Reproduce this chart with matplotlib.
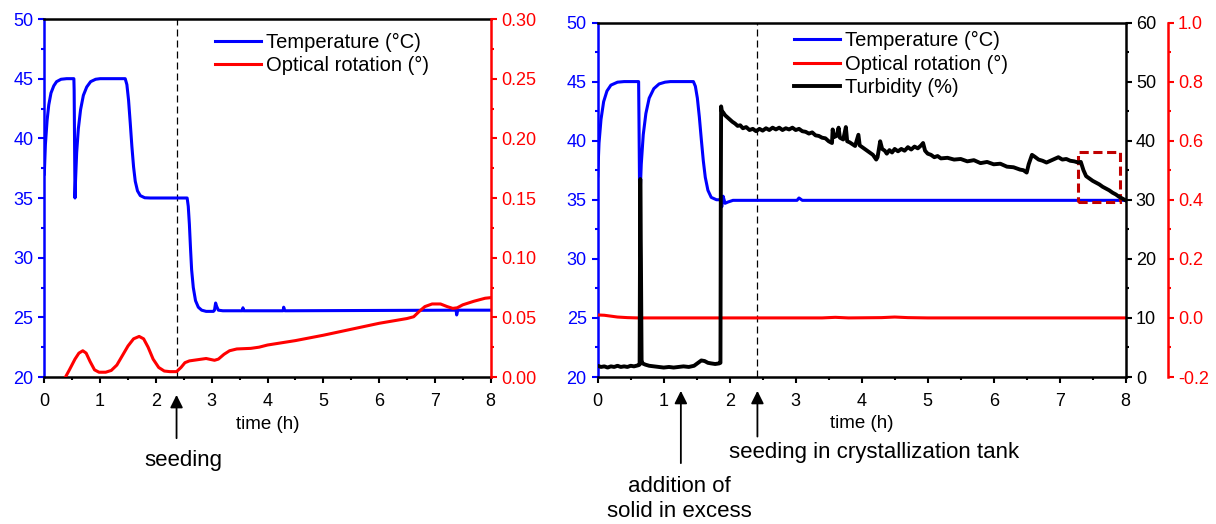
import numpy as np
import matplotlib
matplotlib.use('Agg')
import matplotlib.pyplot as plt
from matplotlib.ticker import MultipleLocator, FormatStrFormatter
from matplotlib.patches import Rectangle

plt.rcParams['font.family'] = ['Liberation Sans', 'DejaVu Sans']
plt.rcParams['axes.unicode_minus'] = False

# ---- left experiment: temperature (degC) and optical rotation (deg) vs time (h)
t_temp_a = [0.00, 0.02, 0.05, 0.08, 0.12, 0.17, 0.22, 0.30, 0.40, 0.53, 0.535, 0.545,
            0.55, 0.56, 0.58, 0.61, 0.65, 0.70, 0.76, 0.83, 0.92, 1.00, 1.45, 1.48,
            1.51, 1.54, 1.57, 1.60, 1.63, 1.67, 1.72, 1.80, 1.90, 2.56, 2.58, 2.60,
            2.62, 2.64, 2.67, 2.71, 2.76, 2.82, 2.90, 3.03, 3.05, 3.07, 3.09, 3.12,
            3.20, 3.55, 3.56, 3.57, 4.28, 4.29, 4.31, 7.38, 7.39, 7.41, 8.00]
temp_a = [37.0, 39.5, 41.5, 42.8, 43.8, 44.4, 44.75, 44.95, 45.0, 45.0, 44.0, 38.0,
          35.0, 36.5, 38.8, 40.8, 42.4, 43.6, 44.3, 44.75, 44.95, 45.0, 45.0, 44.5,
          43.2, 41.3, 39.3, 37.6, 36.4, 35.6, 35.2, 35.02, 35.0, 35.0, 34.3, 32.8,
          30.8, 29.0, 27.5, 26.4, 25.85, 25.6, 25.5, 25.5, 25.6, 26.2, 25.9, 25.6,
          25.55, 25.55, 25.8, 25.55, 25.55, 25.85, 25.55, 25.6, 25.2, 25.6, 25.6]

t_rot_a = [0.38, 0.45, 0.55, 0.62, 0.69, 0.75, 0.82, 0.90, 0.98, 1.10, 1.20, 1.30,
           1.40, 1.50, 1.60, 1.70, 1.78, 1.86, 1.95, 2.05, 2.15, 2.25, 2.37, 2.45,
           2.52, 2.60, 2.75, 2.90, 3.05, 3.12, 3.22, 3.32, 3.45, 3.70, 3.85, 4.00,
           4.50, 5.00, 5.50, 6.00, 6.50, 6.62, 6.72, 6.82, 6.95, 7.10, 7.22, 7.32,
           7.40, 7.50, 7.70, 7.90, 8.00]
rot_a = [0.0, 0.006, 0.015, 0.020, 0.022, 0.020, 0.013, 0.006, 0.004, 0.004, 0.0055, 0.010,
         0.018, 0.026, 0.032, 0.034, 0.032, 0.025, 0.015, 0.008, 0.005, 0.0045, 0.0045, 0.008,
         0.012, 0.0135, 0.0145, 0.0155, 0.014, 0.015, 0.019, 0.022, 0.0235, 0.024, 0.025, 0.0268,
         0.0305, 0.035, 0.040, 0.045, 0.049, 0.0505, 0.055, 0.059, 0.0612, 0.0612, 0.059, 0.0575,
         0.058, 0.0605, 0.0635, 0.066, 0.0665]

t_seed_a = 2.37

# ---- right experiment: temperature, optical rotation and turbidity (%)
t_temp_b = [0.00, 0.02, 0.05, 0.09, 0.14, 0.20, 0.30, 0.40, 0.62, 0.625, 0.635, 0.645,
            0.66, 0.69, 0.73, 0.78, 0.85, 0.93, 1.02, 1.10, 1.45, 1.48, 1.51, 1.54,
            1.57, 1.60, 1.63, 1.67, 1.72, 1.80, 1.86, 1.88, 1.90, 1.93, 1.97, 2.05,
            3.02, 3.05, 3.10, 8.00]
temp_b = [37.0, 39.8, 41.8, 43.3, 44.2, 44.7, 44.95, 45.0, 45.0, 42.0, 35.5, 35.8,
          38.0, 40.5, 42.3, 43.6, 44.4, 44.8, 44.95, 45.0, 45.0, 44.6, 43.6, 42.0,
          40.1, 38.3, 36.9, 35.8, 35.2, 35.0, 35.0, 34.4, 35.3, 34.7, 34.8, 34.95,
          34.95, 35.15, 34.95, 34.95]

t_rot_b = [0.00, 0.10, 0.20, 0.30, 0.45, 0.60, 3.40, 3.60, 3.80, 4.30, 4.50, 4.70, 5.00, 8.00]
rot_b = [0.010, 0.009, 0.006, 0.003, 0.001, 0.0, 0.0, 0.002, 0.0, 0.001, 0.003, 0.001, 0.0, 0.0]

t_turb = [0.00, 0.05, 0.10, 0.15, 0.20, 0.25, 0.30, 0.35, 0.40, 0.45, 0.50, 0.55, 0.62,
          0.635, 0.64, 0.645, 0.655, 0.665, 0.68, 0.72, 0.78, 0.85, 0.92, 1.00, 1.08,
          1.15, 1.22, 1.30, 1.38, 1.46, 1.52, 1.57, 1.62, 1.67, 1.72, 1.78, 1.84, 1.86,
          1.865, 1.87, 1.88, 1.90, 1.93, 1.96, 2.00, 2.04, 2.08, 2.12, 2.16, 2.20, 2.25,
          2.30, 2.35, 2.40, 2.45, 2.50, 2.55, 2.60, 2.65, 2.70, 2.75, 2.80, 2.85, 2.90,
          2.95, 3.00, 3.05, 3.10, 3.15, 3.20, 3.25, 3.30, 3.35, 3.40, 3.45, 3.50, 3.55,
          3.56, 3.58, 3.62, 3.65, 3.67, 3.72, 3.76, 3.78, 3.82, 3.86, 3.90, 3.95, 3.97,
          4.02, 4.07, 4.12, 4.17, 4.22, 4.24, 4.28, 4.31, 4.35, 4.38, 4.42, 4.46, 4.50,
          4.55, 4.60, 4.65, 4.70, 4.75, 4.80, 4.85, 4.90, 4.93, 4.96, 5.00, 5.05, 5.10,
          5.15, 5.20, 5.30, 5.40, 5.50, 5.60, 5.70, 5.80, 5.90, 6.00, 6.10, 6.20, 6.30,
          6.40, 6.45, 6.50, 6.53, 6.58, 6.62, 6.68, 6.74, 6.80, 6.86, 6.92, 6.98, 7.04,
          7.10, 7.16, 7.22, 7.28, 7.32, 7.36, 7.40, 7.45, 7.50, 7.55, 7.60, 7.65, 7.70,
          7.75, 7.80, 7.85, 7.90, 7.95, 8.00]
turb = [1.9, 1.7, 1.8, 1.6, 1.8, 1.7, 1.9, 1.7, 1.8, 1.7, 1.9, 1.8, 2.0,
        2.1, 20.0, 33.5, 20.0, 2.8, 2.3, 2.1, 1.9, 1.8, 1.7, 1.6, 1.7,
        1.6, 1.7, 1.8, 1.7, 1.9, 2.4, 2.8, 2.7, 2.4, 2.3, 2.2, 2.3, 2.4,
        30.0, 45.8, 45.0, 44.8, 44.3, 44.0, 43.6, 43.2, 42.9, 42.5, 42.6, 42.1, 42.3,
        41.8, 42.0, 41.6, 42.0, 41.7, 42.1, 41.8, 42.2, 41.9, 42.2, 41.8, 42.1, 41.9,
        42.2, 41.8, 42.0, 41.6, 41.5, 41.2, 41.4, 40.9, 40.8, 40.5, 40.4, 39.9, 39.6,
        41.9, 40.6, 40.8, 42.2, 40.5, 40.2, 42.3, 39.9, 39.7, 39.4, 39.1, 41.0, 39.2,
        38.8, 38.4, 38.0, 37.6, 36.8, 37.2, 39.9, 38.6, 38.3, 37.8, 38.4, 38.0, 38.6,
        38.2, 38.6, 38.3, 38.9, 38.5, 39.0, 38.7, 39.2, 39.6, 38.3, 37.8, 37.6, 37.2,
        37.4, 37.0, 37.1, 36.8, 36.9, 36.5, 36.7, 36.2, 36.4, 36.0, 36.1, 35.6, 35.5,
        35.1, 35.0, 34.6, 36.0, 37.6, 37.3, 36.8, 36.6, 36.3, 36.6, 36.9, 37.2, 36.8,
        36.9, 36.6, 36.5, 36.3, 36.4, 35.0, 34.0, 33.6, 33.2, 32.9, 32.6, 32.2, 31.9,
        31.6, 31.2, 30.9, 30.5, 30.2, 29.9]

t_seed_b = 2.42
t_solid = 1.26

BLUE = '#0000ff'
RED = '#ff0000'
TICK_FS = 13
LEG_FS = 14.5
NOTE_FS = 16


def style_axis(ax, axis, color, major, minor):
    # Origin style ticks: outward, one minor tick between majors
    a = ax.xaxis if axis == 'x' else ax.yaxis
    a.set_major_locator(MultipleLocator(major))
    a.set_minor_locator(MultipleLocator(minor))
    ax.tick_params(axis=axis, which='major', direction='out', length=4.3, width=1.5,
                   color=color, labelcolor=color, labelsize=TICK_FS)
    ax.tick_params(axis=axis, which='minor', direction='out', length=2.5, width=1.5,
                   color=color)


def host_axes(fig, rect):
    ax = fig.add_axes(rect)
    ax.set_xlim(0, 8)
    ax.set_ylim(20, 50)
    for s in ax.spines.values():
        s.set_linewidth(1.8)
    ax.spines['left'].set_color(BLUE)
    ax.spines['right'].set_visible(False)
    style_axis(ax, 'x', 'black', 1, 0.5)
    style_axis(ax, 'y', BLUE, 5, 2.5)
    ax.tick_params(axis='x', which='major', pad=7.5)
    ax.tick_params(axis='y', which='both', pad=3.6)
    ax.set_xlabel('time (h)', fontsize=13.5)
    ax.xaxis.label.set_va('center')
    ax.xaxis.set_label_coords(0.5, -0.132)
    return ax


def right_twin(ax, color, lo, hi, major, minor, fmt, offset=0):
    tw = ax.twinx()
    tw.set_ylim(lo, hi)
    for name in ['left', 'top', 'bottom']:
        tw.spines[name].set_visible(False)
    tw.spines['right'].set_color(color)
    tw.spines['right'].set_linewidth(1.8)
    if offset:
        tw.spines['right'].set_position(('outward', offset))
    style_axis(tw, 'y', color, major, minor)
    tw.tick_params(axis='y', which='both', pad=3)
    tw.yaxis.set_major_formatter(FormatStrFormatter(fmt))
    return tw


def arrow_note(ax, x, y_tip, y_tail):
    ax.annotate('', xy=(x, y_tip), xytext=(x, y_tail),
                xycoords=ax.get_xaxis_transform(), textcoords=ax.get_xaxis_transform(),
                arrowprops=dict(arrowstyle='-|>', color='black', lw=1.3,
                                mutation_scale=19, shrinkA=0, shrinkB=0),
                annotation_clip=False)


fig = plt.figure(figsize=(12.16, 5.24), dpi=100)

# ---------------- left panel
ax1 = host_axes(fig, [0.03643, 0.28053, 0.36711, 0.68321])
ax1.axvline(t_seed_a, color='black', lw=0.9, ls=(0, (5.6, 3.2)))
l1, = ax1.plot(t_temp_a, temp_a, color=BLUE, lw=2.2, label='Temperature (°C)')
ax1r = right_twin(ax1, RED, 0, 0.30, 0.05, 0.025, '%.2f')
l2, = ax1r.plot(t_rot_a, rot_a, color=RED, lw=2.2, label='Optical rotation (°)')
ax1r.legend(handles=[l1, l2], loc='upper left', bbox_to_anchor=(0.383, 0.962),
            frameon=False, fontsize=LEG_FS, borderpad=0, borderaxespad=0,
            handlelength=2.28, handletextpad=0.25, labelspacing=0.22)

arrow_note(ax1, t_seed_a, -0.050, -0.171)
ax1.text(2.50, -0.232, 'seeding', transform=ax1.get_xaxis_transform(),
         ha='center', va='center', fontsize=NOTE_FS)

# ---------------- right panel
ax2 = host_axes(fig, [0.49153, 0.28053, 0.43421, 0.67653])
ax2.axvline(t_seed_b, color='black', lw=0.9, ls=(0, (5.6, 3.2)))
m1, = ax2.plot(t_temp_b, temp_b, color=BLUE, lw=2.2, label='Temperature (°C)')

ax2t = right_twin(ax2, 'black', 0, 60, 10, 5, '%d')
ax2o = right_twin(ax2, RED, -0.2, 1.0, 0.2, 0.1, '%.1f', offset=30.2)
m2, = ax2o.plot(t_rot_b, rot_b, color=RED, lw=2.2, label='Optical rotation (°)')
m3, = ax2t.plot(t_turb, turb, color='black', lw=2.8, label='Turbidity (%)')
ax2t.set_zorder(ax2o.get_zorder() + 1)

# zoomed region at the end of the run
ax2t.add_patch(Rectangle((7.27, 29.6), 0.65, 8.5, fill=False, edgecolor='#c00000',
                         lw=2.2, ls=(0, (3, 1.5))))

ax2t.legend(handles=[m1, m2, m3], loc='upper left', bbox_to_anchor=(0.372, 0.975),
            frameon=False, fontsize=LEG_FS, borderpad=0, borderaxespad=0,
            handlelength=2.28, handletextpad=0.25, labelspacing=0.22)

arrow_note(ax2, t_solid, -0.039, -0.243)
arrow_note(ax2, t_seed_b, -0.039, -0.168)
ax2.text(1.99, -0.2135, 'seeding in crystallization tank', transform=ax2.get_xaxis_transform(),
         ha='left', va='center', fontsize=NOTE_FS)
ax2.text(1.23, -0.344, 'addition of\nsolid in excess', transform=ax2.get_xaxis_transform(),
         ha='center', va='center', fontsize=NOTE_FS, linespacing=1.27)

fig.savefig('out.png', dpi=100)
